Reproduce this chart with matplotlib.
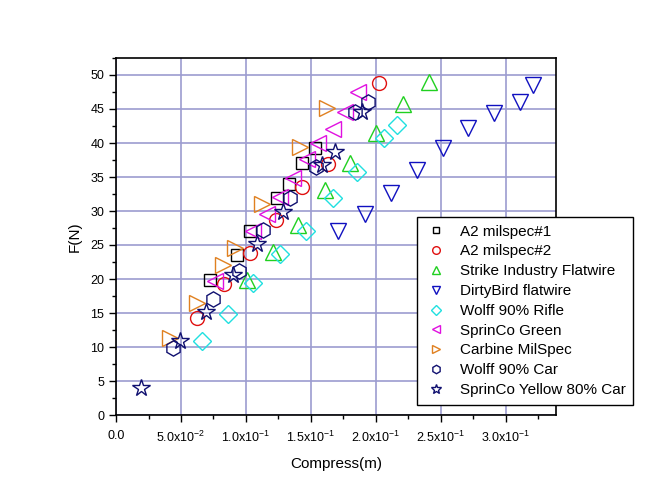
import matplotlib
matplotlib.use('Agg')
import matplotlib.pyplot as plt
from matplotlib.ticker import MultipleLocator, FixedLocator

plt.rcParams.update({
    'font.family': ['Liberation Sans', 'DejaVu Sans'],
    'mathtext.fontset': 'custom',
    'mathtext.rm': 'Liberation Sans',
    'mathtext.it': 'Liberation Sans',
    'mathtext.default': 'regular',
})

# ---- data ----
a2_1_x = [0.0725, 0.093, 0.103, 0.1236, 0.133, 0.143, 0.153]
a2_1_y = [19.8, 23.5, 27.0, 31.9, 34.0, 37.0, 39.2]

a2_2_x = [0.0626, 0.083, 0.103, 0.123, 0.1428, 0.1633, 0.2025]
a2_2_y = [14.3, 19.2, 23.8, 28.7, 33.6, 36.9, 48.8]

strike_x = [0.1005, 0.121, 0.140, 0.1608, 0.180, 0.200, 0.221, 0.241]
strike_y = [19.9, 23.9, 27.9, 33.1, 37.0, 41.4, 45.7, 48.9]

dirty_x = [0.171, 0.1915, 0.2113, 0.2313, 0.2513, 0.271, 0.291, 0.311, 0.3205]
dirty_y = [27.0, 29.6, 32.6, 36.0, 39.2, 42.2, 44.4, 46.1, 48.5]

wolff_rifle_x = [0.0664, 0.0864, 0.1056, 0.126, 0.146, 0.1667, 0.1856, 0.206, 0.216]
wolff_rifle_y = [10.9, 14.9, 19.4, 23.7, 27.0, 31.9, 35.8, 40.7, 42.6]

sprinco_green_x = [0.076, 0.1056, 0.116, 0.126, 0.136, 0.1467, 0.1556, 0.1667, 0.176, 0.1864]
sprinco_green_y = [19.75, 27.0, 29.5, 32.1, 34.8, 37.7, 40.0, 42.0, 44.5, 47.5]

carbine_x = [0.0415, 0.062, 0.082, 0.0915, 0.112, 0.1415, 0.162]
carbine_y = [11.3, 16.5, 22.1, 24.5, 31.1, 39.4, 45.1]

wolff_car_x = [0.0441, 0.0744, 0.0949, 0.1133, 0.1338, 0.1538, 0.1838, 0.194]
wolff_car_y = [9.9, 17.0, 21.2, 27.2, 31.9, 36.4, 44.6, 46.1]

sprinco_yellow_x = [0.019, 0.0492, 0.0692, 0.0897, 0.1087, 0.1287, 0.1582, 0.1685, 0.189]
sprinco_yellow_y = [4.0, 10.9, 15.2, 20.6, 25.2, 29.8, 36.8, 38.7, 44.6]

series = [
    ('A2 milspec#1', a2_1_x, a2_1_y, 's', '#000000'),
    ('A2 milspec#2', a2_2_x, a2_2_y, 'o', '#E01010'),
    ('Strike Industry Flatwire', strike_x, strike_y, '^', '#20D020'),
    ('DirtyBird flatwire', dirty_x, dirty_y, 'v', '#1010C0'),
    ('Wolff 90% Rifle', wolff_rifle_x, wolff_rifle_y, 'D', '#20E0E0'),
    ('SprinCo Green', sprinco_green_x, sprinco_green_y, '<', '#E010E0'),
    ('Carbine MilSpec', carbine_x, carbine_y, '>', '#E08020'),
    ('Wolff 90% Car', wolff_car_x, wolff_car_y, 'h', '#101070'),
    ('SprinCo Yellow 80% Car', sprinco_yellow_x, sprinco_yellow_y, '*', '#101070'),
]

x_ticks = [0.0, 0.05, 0.10, 0.15, 0.20, 0.25, 0.30]
x_tick_labels = ['0.0', r'5.0x10$^{-2}$', r'1.0x10$^{-1}$', r'1.5x10$^{-1}$',
                 r'2.0x10$^{-1}$', r'2.5x10$^{-1}$', r'3.0x10$^{-1}$']

fig = plt.figure(figsize=(6.47, 5.0), dpi=100)
ax = fig.add_axes([0.1793, 0.17, 0.68, 0.714])

sizes = {'s': 9, 'o': 10, '^': 11, 'v': 11, 'D': 9, '<': 11, '>': 11, 'h': 11, '*': 13}
for name, xs, ys, mk, col in series:
    ax.plot(xs, ys, linestyle='none', marker=mk, markersize=sizes[mk],
            markerfacecolor='none', markeredgecolor=col, markeredgewidth=1.0,
            label=name, zorder=3)

ax.set_xlim(0, 0.3385)
ax.set_ylim(0, 52.5)
ax.xaxis.set_major_locator(FixedLocator(x_ticks))
ax.set_xticklabels(x_tick_labels, fontsize=8.5)
ax.xaxis.set_minor_locator(MultipleLocator(0.025))
ax.yaxis.set_major_locator(MultipleLocator(5))
ax.yaxis.set_minor_locator(MultipleLocator(2.5))
ax.tick_params(axis='both', which='major', direction='out', length=5, width=1, labelsize=9)
ax.tick_params(axis='both', which='minor', direction='out', length=3, width=1)
ax.tick_params(axis='x', pad=6)

ax.grid(True, which='major', color='#9C9CD0', linewidth=1.2, zorder=0)
ax.set_axisbelow(True)
for sp in ax.spines.values():
    sp.set_linewidth(1.2)

ax.set_xlabel('Compress(m)', fontsize=11, labelpad=8)
ax.set_ylabel('F(N)', fontsize=11, labelpad=6)

leg = ax.legend(loc='upper left', bbox_to_anchor=(417 / 647, 1 - 217 / 500),
                bbox_transform=fig.transFigure, fontsize=11, frameon=True,
                fancybox=False, edgecolor='#000000', framealpha=1,
                markerscale=0.55, handlelength=1.5, handletextpad=0.8,
                labelspacing=0.38, borderpad=0.5, borderaxespad=0)
leg.get_frame().set_linewidth(1.0)

fig.savefig('out.png', dpi=100)
